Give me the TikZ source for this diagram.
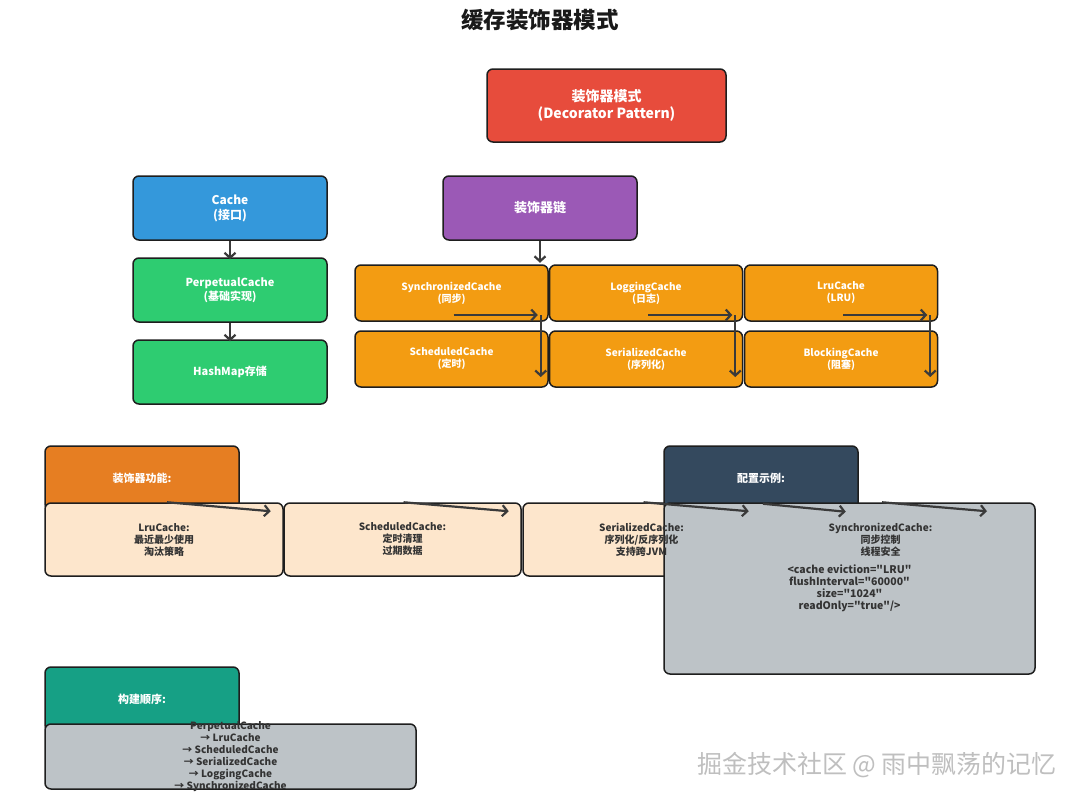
\documentclass[tikz,border=0pt]{standalone}
\usepackage{fontspec}
\setmainfont{Noto Sans CJK SC}[Ligatures=TeXOff]
\usetikzlibrary{arrows.meta,calc}
\definecolor{cred}{HTML}{E74C3C}
\definecolor{cblue}{HTML}{3498DB}
\definecolor{cgreen}{HTML}{2ECC71}
\definecolor{cpurple}{HTML}{9B59B6}
\definecolor{corange}{HTML}{F39C12}
\definecolor{cdorange}{HTML}{E67E22}
\definecolor{cnavy}{HTML}{34495E}
\definecolor{cteal}{HTML}{16A085}
\definecolor{cgray}{HTML}{BDC3C7}
\definecolor{cpeach}{HTML}{FDE6CC}
\definecolor{cline}{HTML}{1E1E1E}
\definecolor{carrow}{HTML}{3A3A3A}
\definecolor{ctext}{HTML}{333333}
\tikzset{
  box/.style={draw=cline, line width=1.5pt, rounded corners=6pt, inner sep=0pt, align=center,
    text=white, font=\bfseries\fontsize{12}{15}\selectfont},
  smallbox/.style={box, font=\bfseries\fontsize{10}{12}\selectfont},
  headbox/.style={box, font=\bfseries\fontsize{11}{13}\selectfont},
  lbl/.style={align=center, inner sep=0pt, text=ctext, font=\bfseries\fontsize{10}{12}\selectfont},
  arr/.style={draw=carrow, line width=2.2pt, -{Straight Barb[length=5pt,width=11pt]}},
}
\begin{document}
\begin{tikzpicture}[x=1pt,y=-1pt]
\useasboundingbox[fill=white] (0,0) rectangle (1080,801);

\node[font=\bfseries\fontsize{22.5}{26}\selectfont, text=black!90] (title) at (540,20) {缓存装饰器模式};

\node[box, fill=cred, minimum width=239, minimum height=73, font=\bfseries\fontsize{14}{16.5}\selectfont] (deco) at (606.5,105.5) {装饰器模式\\(Decorator Pattern)};

\node[box, fill=cblue, minimum width=194, minimum height=64] (cache) at (230,208) {Cache\\(接口)};
\node[box, fill=cgreen, minimum width=194, minimum height=64, font=\bfseries\fontsize{11}{14}\selectfont] (perp) at (230,290) {PerpetualCache\\(基础实现)};
\node[box, fill=cgreen, minimum width=194, minimum height=64, font=\bfseries\fontsize{11}{14}\selectfont] (hash) at (230,372) {HashMap存储};

\node[box, fill=cpurple, minimum width=194, minimum height=64, font=\bfseries\fontsize{13}{16}\selectfont] (chain) at (540,208) {装饰器链};

\node[smallbox, fill=corange, minimum width=193, minimum height=56] (sync) at (451.5,293) {SynchronizedCache\\(同步)};
\node[smallbox, fill=corange, minimum width=193, minimum height=56] (logc) at (646,293) {LoggingCache\\(日志)};
\node[smallbox, fill=corange, minimum width=193, minimum height=56] (lru) at (841,293) {LruCache\\(LRU)};
\node[smallbox, fill=corange, minimum width=193, minimum height=56] (sched) at (451.5,359) {ScheduledCache\\(定时)};
\node[smallbox, fill=corange, minimum width=193, minimum height=56] (ser) at (646,359) {SerializedCache\\(序列化)};
\node[smallbox, fill=corange, minimum width=193, minimum height=56] (block) at (841,359) {BlockingCache\\(阻塞)};

% feature section
\node[headbox, fill=cdorange, minimum width=194, minimum height=64] (fhead) at (142,478) {装饰器功能:};
\node[box, fill=cpeach, minimum width=238, minimum height=73] (f1) at (164,539.5) {};
\node[box, fill=cpeach, minimum width=237, minimum height=73] (f2) at (402.5,539.5) {};
\node[box, fill=cpeach, minimum width=237, minimum height=73] (f3) at (641.5,539.5) {};

% config section
\node[headbox, fill=cnavy, minimum width=194, minimum height=64] (chead) at (761,478) {配置示例:};
\node[box, fill=cgray, minimum width=371, minimum height=171] (cfg) at (849.5,588.5) {};

\node[lbl] (f1t) at (f1.center) {LruCache:\\最近最少使用\\淘汰策略};
\node[lbl] (f2t) at (f2.center) {ScheduledCache:\\定时清理\\过期数据};
\node[lbl] (f3t) at (f3.center) {SerializedCache:\\序列化/反序列化\\支持跨JVM};
\node[lbl] (f4t) at (880.5,539.5) {SynchronizedCache:\\同步控制\\线程安全};
\node[lbl, font=\bfseries\fontsize{10.5}{12}\selectfont] (cfgt) at (cfg.center) {<cache eviction="LRU"\\flushInterval="60000"\\size="1024"\\readOnly="true"/>};

% build order
\node[headbox, fill=cteal, minimum width=194, minimum height=64] (bhead) at (142,699) {构建顺序:};
\node[box, fill=cgray, minimum width=371, minimum height=65] (build) at (230.5,756.5) {};
\node[lbl] (buildt) at (build.center) {PerpetualCache\\→ LruCache\\→ ScheduledCache\\→ SerializedCache\\→ LoggingCache\\→ SynchronizedCache};

% connectors
\draw[arr] (cache.south) -- ($(perp.north)+(0,2)$);
\draw[arr] (perp.south) -- ($(hash.north)+(0,2)$);
\draw[arr] (chain.south) -- ($(chain.south)+(0,22)$);

\draw[arr] ($(sync.center)+(2,22)$) -- ($(sync.east)+(-11,22)$);
\draw[arr] ($(sync.east)+(-8,22)$) -- ($(sched.east)+(-8,18)$);
\draw[arr] ($(logc.center)+(2,22)$) -- ($(logc.east)+(-11,22)$);
\draw[arr] ($(logc.east)+(-8,22)$) -- ($(ser.east)+(-8,18)$);
\draw[arr] ($(lru.center)+(2,22)$) -- ($(lru.east)+(-11,22)$);
\draw[arr] ($(lru.east)+(-8,22)$) -- ($(block.east)+(-8,18)$);

\draw[arr] ($(f1.north)+(3,0)$) -- ($(f1.north east)+(-13,9)$);
\draw[arr] ($(f2.north)+(1,0)$) -- ($(f2.north east)+(-13,9)$);
\draw[arr] ($(f3.north)+(2,0)$) -- ($(f3.north east)+(-12,9)$);
\draw[arr] ($(chead.south)+(2,-7)$) -- ($(chead.south east)+(-13,1)$);
\draw[arr] ($(cfg.north)+(32.5,0)$) -- ($(cfg.north)+(137.5,9)$);

\node[text=gray!50, font=\fontsize{25}{28}\selectfont] (wm) at (877,765) {掘金技术社区 @ 雨中飘荡的记忆};
\end{tikzpicture}
\end{document}
